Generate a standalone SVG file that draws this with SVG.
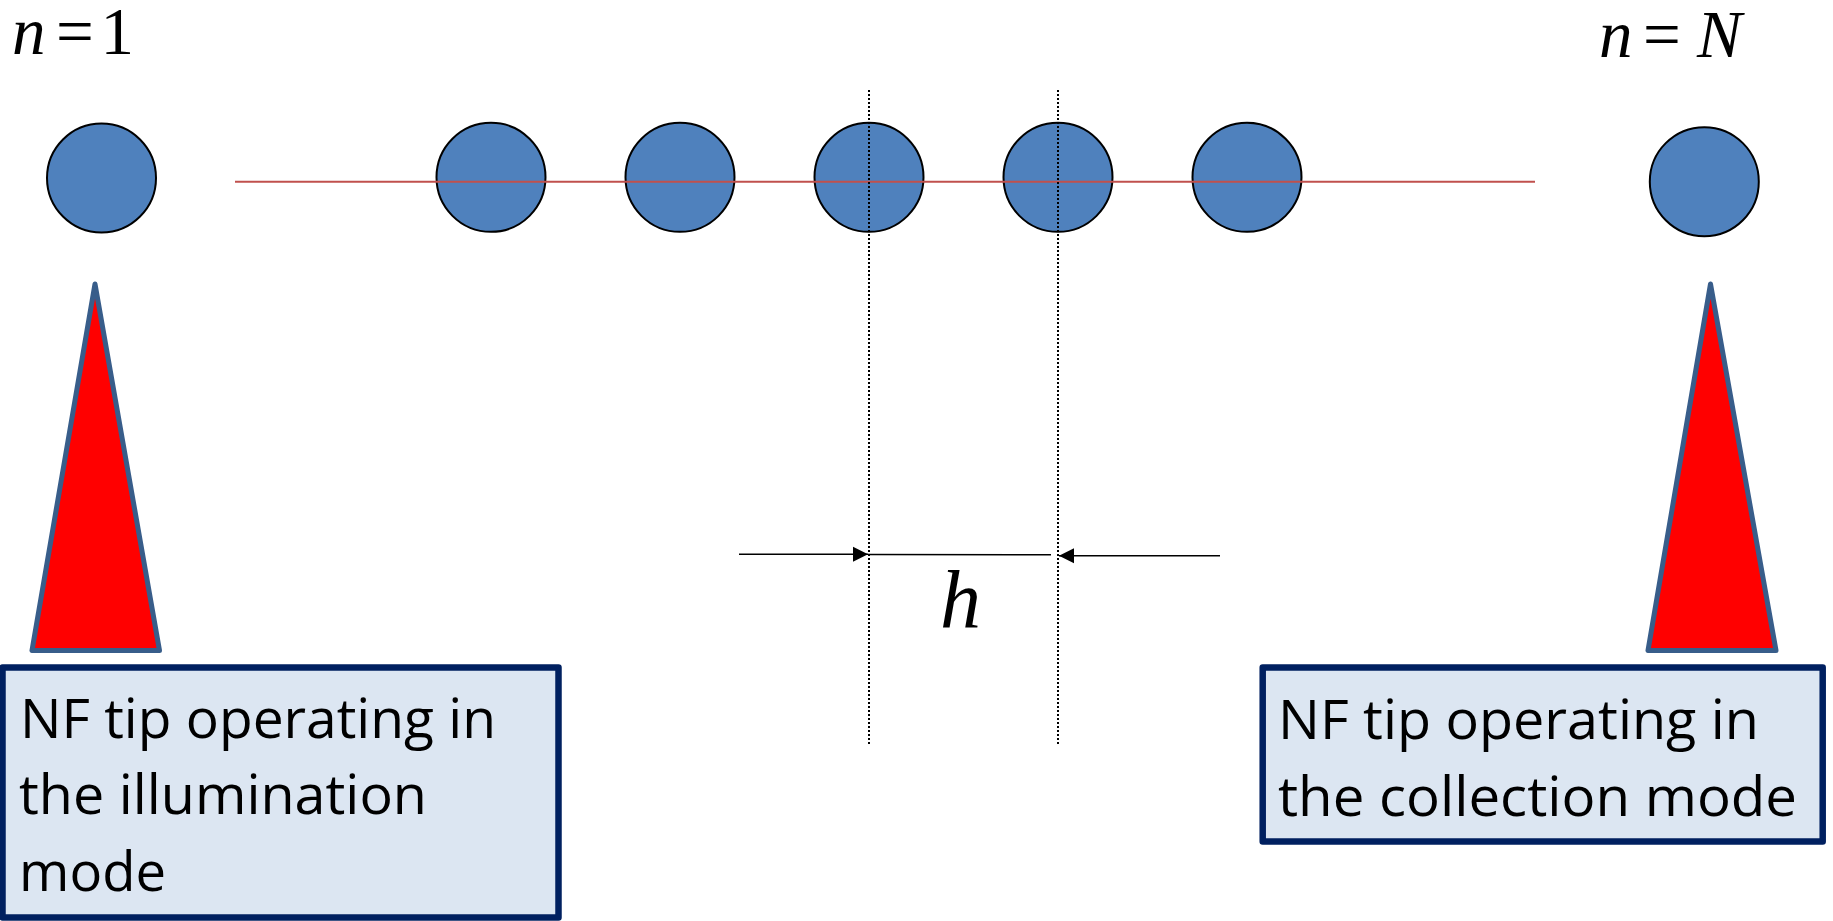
<svg xmlns="http://www.w3.org/2000/svg" width="1833" height="921" viewBox="0 0 1833 921">
  <style>
    .atom { fill: #4F81BD; stroke: #000000; stroke-width: 2; }
    .tip { fill: #FF0000; stroke: #385D8A; stroke-width: 5; stroke-linejoin: round; }
    .box { fill: #DCE6F2; stroke: #002060; stroke-width: 6.5; stroke-linejoin: round; }
    .boxtxt { font-family: "Open Sans", "Liberation Sans", sans-serif; font-size: 54px; fill: #000000; }
    .math { font-family: "Liberation Serif", "Times New Roman", serif; fill: #000000; }
    .it { font-style: italic; }
    .axis { stroke: #C0504D; stroke-width: 2; fill: none; }
    .dot { stroke: #000000; stroke-width: 2; stroke-dasharray: 2 2; fill: none; }
    .dim { stroke: #000000; stroke-width: 1.6; fill: none; }
  </style>
  <defs>
    <marker id="arrow" markerUnits="userSpaceOnUse" markerWidth="16" markerHeight="16" refX="15" refY="8" orient="auto">
      <path d="M0,0.5 L15,8 L0,15.5 Z" fill="#000000"/>
    </marker>
  </defs>
  <rect x="0" y="0" width="1833" height="921" fill="#FFFFFF"/>

  <g id="label-n1">
    <text class="math" font-size="67" y="53.5"><tspan class="it" x="12">n</tspan><tspan x="56">=</tspan><tspan x="100.5">1</tspan></text>
  </g>
  <g id="label-nN">
    <text class="math" font-size="67" y="57"><tspan class="it" x="1599">n</tspan><tspan x="1643">=</tspan><tspan class="it" x="1697">N</tspan></text>
  </g>

  <g id="particle-1"><circle class="atom" cx="101.5" cy="178" r="54.5"/></g>
  <g id="particle-a"><circle class="atom" cx="491" cy="177.3" r="54.5"/></g>
  <g id="particle-b"><circle class="atom" cx="680" cy="177.3" r="54.5"/></g>
  <g id="particle-c"><circle class="atom" cx="869" cy="177.3" r="54.5"/></g>
  <g id="particle-d"><circle class="atom" cx="1058" cy="177.3" r="54.5"/></g>
  <g id="particle-e"><circle class="atom" cx="1247" cy="177.3" r="54.5"/></g>
  <g id="particle-N"><circle class="atom" cx="1704.3" cy="181.7" r="54.5"/></g>

  <g id="tip-illumination"><polygon class="tip" points="95,284 32,650.5 159.5,650.5"/></g>
  <g id="tip-collection"><polygon class="tip" points="1710.5,284 1648,650.5 1776,650.5"/></g>

  <g id="box-illumination">
    <rect class="box" x="2.5" y="667.5" width="556" height="250"/>
    <text class="boxtxt" x="20" y="737.5" textLength="476" lengthAdjust="spacingAndGlyphs">NF tip operating in</text>
    <text class="boxtxt" x="19" y="814" textLength="408" lengthAdjust="spacingAndGlyphs">the illumination</text>
    <text class="boxtxt" x="19" y="890.5" textLength="147" lengthAdjust="spacingAndGlyphs">mode</text>
  </g>
  <g id="box-collection">
    <rect class="box" x="1262.7" y="667.5" width="560" height="174"/>
    <text class="boxtxt" x="1278" y="739" textLength="481" lengthAdjust="spacingAndGlyphs">NF tip operating in</text>
    <text class="boxtxt" x="1278" y="816" textLength="519" lengthAdjust="spacingAndGlyphs">the collection mode</text>
  </g>

  <g id="label-h">
    <text class="math it" font-size="82" x="940" y="627">h</text>
  </g>

  <g id="connectors">
    <line class="axis" x1="235" y1="181.7" x2="1535" y2="181.7"/>
    <line class="dot" x1="869" y1="90" x2="869" y2="746"/>
    <line class="dot" x1="1058" y1="90" x2="1058" y2="746"/>
    <line class="dim" x1="739" y1="554.3" x2="868" y2="554.3" marker-end="url(#arrow)"/>
    <line class="dim" x1="868" y1="554.5" x2="1051" y2="554.8"/>
    <line class="dim" x1="1220" y1="555.7" x2="1059" y2="555.7" marker-end="url(#arrow)"/>
  </g>
</svg>
